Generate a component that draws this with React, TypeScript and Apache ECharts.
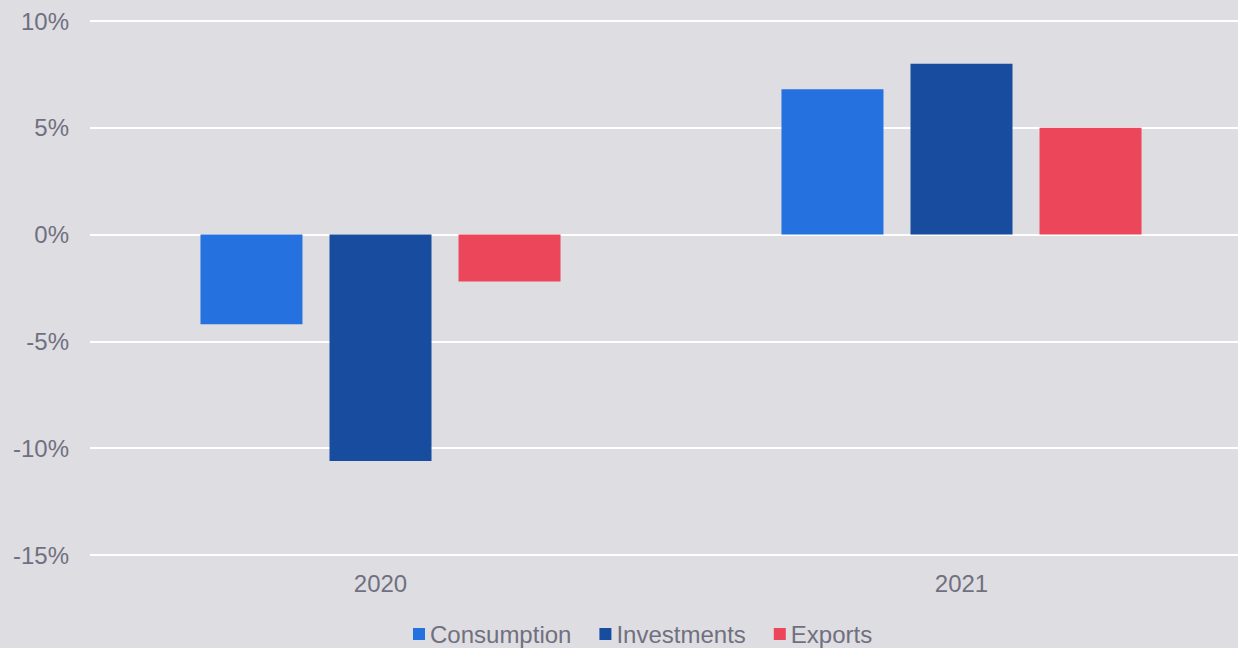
import React, { useEffect, useRef } from "react";
import * as echarts from "echarts";

const categories = ["2020", "2021"];
const consumption = [-4.2, 6.8];
const investments = [-10.6, 8.0];
const exportsData = [-2.2, 5.0];
const seriesNames = ["Consumption", "Investments", "Exports"];
const colors = ["#2671e0", "#174c9e", "#ec465b"];

export default function App() {
  const ref = useRef<HTMLDivElement>(null);
  useEffect(() => {
    if (!ref.current) return;
    const chart = echarts.init(ref.current, null, { renderer: "svg" });
    const textColor = "#70707f";
    const font = "'Liberation Sans', Arial, sans-serif";
    const mk = (name: string, data: number[], color: string) => ({
      name,
      type: "bar",
      data,
      barWidth: 102,
      barGap: "26.5%",
      itemStyle: { color },
    });
    chart.setOption({
      animation: false,
      backgroundColor: "#dedde2",
      textStyle: { fontFamily: font },
      grid: { left: 90, right: 0, top: 21, bottom: 93, containLabel: false },
      legend: {
        data: seriesNames,
        left: 413,
        top: 622,
        icon: "rect",
        itemWidth: 12,
        itemHeight: 12,
        itemGap: 28,
        padding: 0,
        textStyle: { color: textColor, fontSize: 24, fontFamily: font },
      },
      xAxis: {
        type: "category",
        data: categories,
        axisLine: { show: false },
        axisTick: { show: false },
        axisLabel: { color: textColor, fontSize: 24, margin: 16, fontFamily: font },
      },
      yAxis: {
        type: "value",
        min: -15,
        max: 10,
        interval: 5,
        axisLine: { show: false },
        axisTick: { show: false },
        axisLabel: { color: textColor, fontSize: 24, margin: 21, fontFamily: font, formatter: "{value}%" },
        splitLine: { lineStyle: { color: "#ffffff", width: 2 } },
      },
      series: [
        mk(seriesNames[0], consumption, colors[0]),
        mk(seriesNames[1], investments, colors[1]),
        mk(seriesNames[2], exportsData, colors[2]),
      ],
    });
    return () => chart.dispose();
  }, []);
  return (
    <div style={{ position: "absolute", left: 0, top: 0, width: 1238, height: 648, overflow: "hidden" }}>
      <div ref={ref} style={{ width: 1252, height: 648 }} />
    </div>
  );
}
